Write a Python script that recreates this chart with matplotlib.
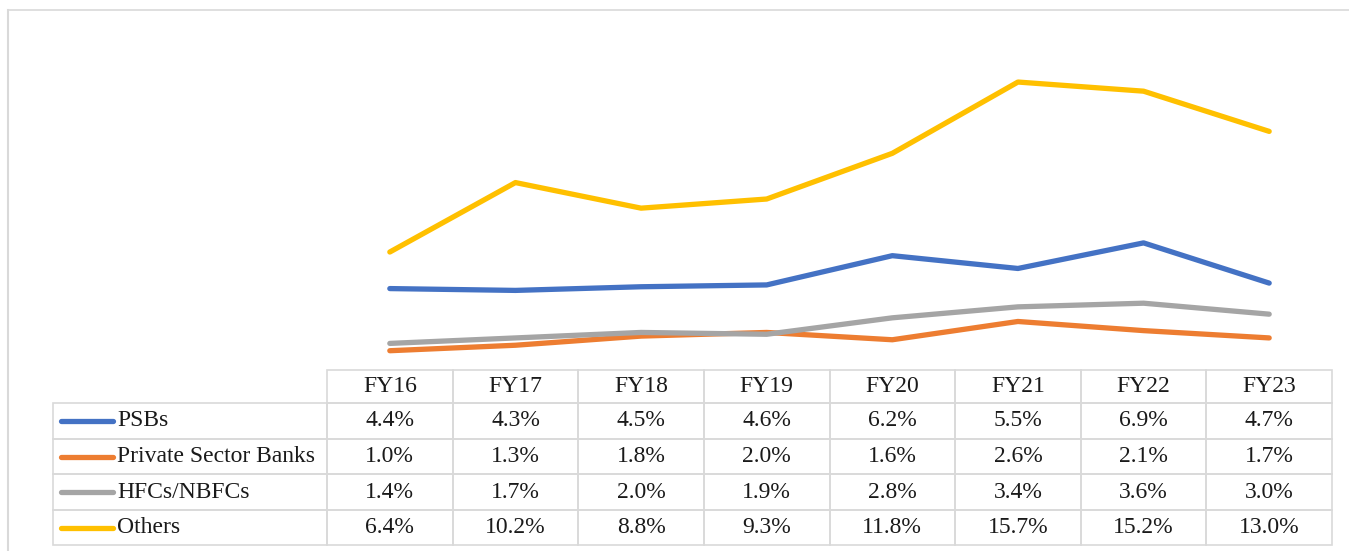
import matplotlib.pyplot as plt
from matplotlib.table import Table
from matplotlib.lines import Line2D

plt.rcParams['font.family'] = ['Liberation Serif', 'DejaVu Serif']

# Data
years = ['FY16', 'FY17', 'FY18', 'FY19', 'FY20', 'FY21', 'FY22', 'FY23']
psbs = [4.4, 4.3, 4.5, 4.6, 6.2, 5.5, 6.9, 4.7]
private_banks = [1.0, 1.3, 1.8, 2.0, 1.6, 2.6, 2.1, 1.7]
hfcs_nbfcs = [1.4, 1.7, 2.0, 1.9, 2.8, 3.4, 3.6, 3.0]
others = [6.4, 10.2, 8.8, 9.3, 11.8, 15.7, 15.2, 13.0]

series_names = ['PSBs', 'Private Sector Banks', 'HFCs/NBFCs', 'Others']
series_values = [psbs, private_banks, hfcs_nbfcs, others]
colors = ['#4472C4', '#ED7D31', '#A5A5A5', '#FFC000']

W, H = 1349, 551
fig = plt.figure(figsize=(W / 100, H / 100), dpi=100)

# plot area in pixels
left, right = 327, 1332
y_zero, y_top = 369, 40
ax = fig.add_axes([left / W, 1 - y_zero / H, (right - left) / W, (y_zero - y_top) / H])
ax.set_xlim(-0.5, len(years) - 0.5)
ax.set_ylim(0, 18)
ax.axis('off')

x = range(len(years))
for vals, c in zip(series_values, colors):
    ax.plot(x, vals, color=c, linewidth=3.8, solid_capstyle='round', solid_joinstyle='round')

# data table under the plot
ax_w = right - left
ax_h = y_zero - y_top
def ax_x(px):
    return (px - left) / ax_w
def ax_y(py):
    return (y_zero - py) / ax_h

fs = 17
text_color = '#1a1a1a'
label_l = 53
row_tops = [370, 403, 439, 474, 510, 545]
tbl = Table(ax, bbox=[ax_x(label_l), ax_y(545), ax_x(right) - ax_x(label_l), ax_y(370) - ax_y(545)])
col_w = [(left - label_l) / ax_w] + [1 / len(years)] * len(years)
edge = '#D9D9D9'
for r in range(5):
    h = (row_tops[r + 1] - row_tops[r]) / ax_h
    for ci in range(len(years) + 1):
        if r == 0:
            txt = '' if ci == 0 else years[ci - 1]
        else:
            txt = '' if ci == 0 else f'{series_values[r - 1][ci - 1]:.1f}%'
        cell = tbl.add_cell(r, ci, width=col_w[ci], height=h, text=txt, loc='center',
                            edgecolor=edge, facecolor='none')
        cell.set_linewidth(1.2)
        cell.get_text().set_fontsize(fs)
        cell.get_text().set_color(text_color)
        if r == 0 and ci == 0:
            cell.visible_edges = ''
tbl.auto_set_font_size(False)
ax.add_table(tbl)

# row labels with legend keys
for i, (name, c) in enumerate(zip(series_names, colors)):
    yc = ax_y((row_tops[i + 1] + row_tops[i + 2]) / 2)
    ax.add_line(Line2D([ax_x(61), ax_x(113)], [yc, yc], color=c, linewidth=3.8,
                       solid_capstyle='round', transform=ax.transAxes, clip_on=False))
    ax.text(ax_x(117), yc, name, fontsize=fs, va='center', ha='left', color=text_color,
            transform=ax.transAxes, clip_on=False)

# outer frame
fig.add_artist(Line2D([8 / W, 8 / W], [0, 1 - 10 / H], color=edge, linewidth=1.5))
fig.add_artist(Line2D([8 / W, 1], [1 - 10 / H, 1 - 10 / H], color=edge, linewidth=1.2))

fig.savefig('out.png', dpi=100)
